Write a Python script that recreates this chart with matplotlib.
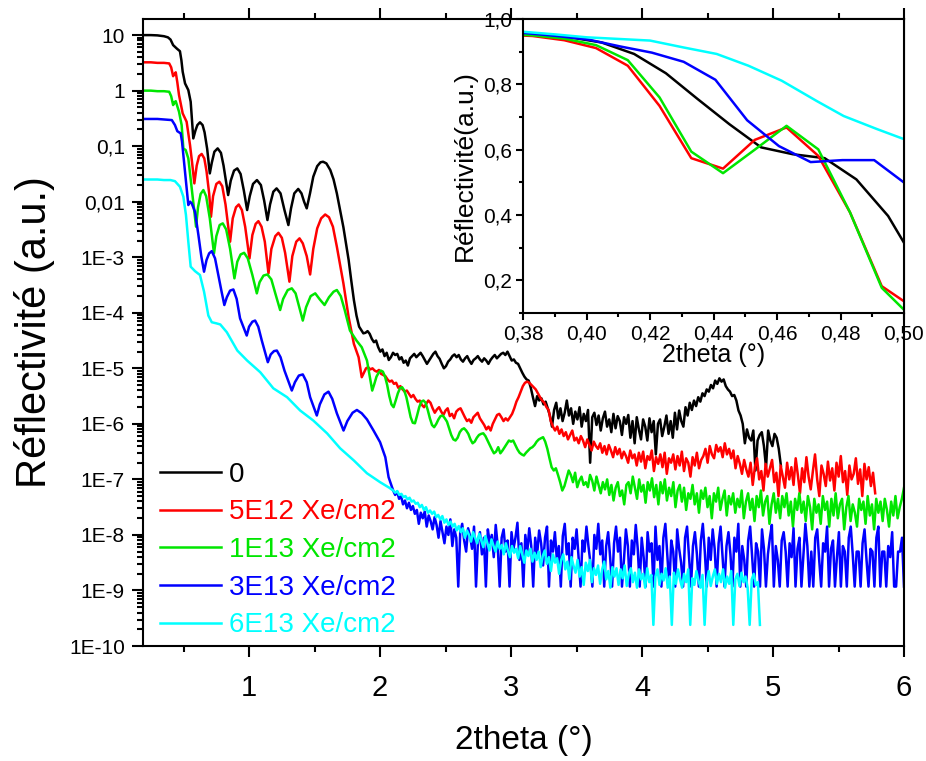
import numpy as np
import matplotlib
matplotlib.use("Agg")
import matplotlib.pyplot as plt
from matplotlib.ticker import (FuncFormatter, MultipleLocator, LogLocator,
                               NullFormatter)

plt.rcParams['font.family'] = ['Liberation Sans', 'DejaVu Sans']

# ---------------- data (main plot; y given as log10 of reflectivity) -------------
labels = ["0", "5E12 Xe/cm2", "1E13 Xe/cm2", "3E13 Xe/cm2", "6E13 Xe/cm2"]
colors = ["#000000", "#ff0000", "#00e600", "#0000ff", "#00ffff"]

# smooth (fringe) part, explicit x / log10(y)
black_x = [0.19, 0.25, 0.30, 0.35, 0.38, 0.40, 0.42, 0.447, 0.472, 0.483, 0.493, 0.511, 0.536, 0.554,
           0.565, 0.574, 0.59, 0.605, 0.625, 0.645, 0.66, 0.68, 0.70, 0.715, 0.735, 0.76, 0.785,
           0.805, 0.84, 0.86, 0.885, 0.91, 0.935, 0.96, 0.985, 1.005, 1.03, 1.06, 1.09, 1.115,
           1.14, 1.16, 1.185, 1.21, 1.24, 1.27, 1.30, 1.32, 1.345, 1.375, 1.40, 1.42, 1.44, 1.465,
           1.49, 1.52, 1.545, 1.565, 1.59, 1.62, 1.645, 1.67, 1.695, 1.72, 1.74, 1.76, 1.78, 1.80,
           1.82]
black_log = [1.0, 1.0, 0.995, 0.98, 0.96, 0.92, 0.82, 0.76, 0.71, 0.55, 0.34, 0.13, 0.01, -0.20,
             -0.55, -0.86, -0.72, -0.62, -0.57, -0.62, -0.75, -1.05, -1.49, -1.30, -1.10, -1.04,
             -1.12, -1.35, -1.88, -1.62, -1.44, -1.40, -1.50, -1.80, -2.15, -1.90, -1.68, -1.61,
             -1.70, -1.98, -2.33, -2.05, -1.82, -1.76, -1.85, -2.15, -2.42, -2.12, -1.85, -1.77,
             -1.85, -2.00, -2.12, -1.85, -1.55, -1.36, -1.29, -1.28, -1.31, -1.43, -1.60, -1.85,
             -2.15, -2.46, -2.75, -3.05, -3.42, -3.77, -4.05]
# noisy tail, evenly sampled between the given start / end angles
black_noise_range = (1.84, 5.06)
black_noise_log = [
    -4.25, -4.31, -4.37, -4.36, -4.33, -4.38, -4.47, -4.53, -4.50, -4.62,
    -4.70, -4.66, -4.78, -4.72, -4.85, -4.80, -4.72, -4.76, -4.74, -4.84,
    -4.80, -4.90, -4.86, -4.95, -4.82, -4.78, -4.74, -4.80, -4.76, -4.72,
    -4.78, -4.85, -4.92, -4.86, -4.80, -4.74, -4.70, -4.78, -4.83, -4.92,
    -5.00, -4.96, -4.88, -4.84, -4.78, -4.75, -4.80, -4.76, -4.84, -4.88,
    -4.82, -4.78, -4.86, -4.92, -4.85, -4.82, -4.78, -4.84, -4.88, -4.82,
    -4.86, -4.92, -4.85, -4.80, -4.76, -4.82, -4.78, -4.74, -4.72, -4.76,
    -4.70, -4.78, -4.86, -4.84, -4.90, -4.92, -5.00, -5.08, -5.15, -5.20,
    -5.22, -5.35, -5.52, -5.68, -5.50, -5.58, -5.54, -5.65, -5.60, -5.72,
    -5.85, -6.05, -5.75, -5.62, -5.90, -5.72, -5.95, -5.80, -5.58, -5.85,
    -5.72, -6.00, -5.78, -5.92, -5.70, -6.05, -5.82, -5.95, -5.75, -6.70,
    -5.88, -5.80, -6.02, -5.85, -6.12, -5.90, -5.78, -6.05, -5.92, -6.15,
    -5.82, -6.08, -5.86, -5.95, -6.20, -5.88, -6.00, -5.84, -6.25, -5.95,
    -6.35, -5.88, -6.10, -6.28, -5.92, -6.05, -6.30, -5.90, -6.15, -5.95,
    -6.55, -6.00, -5.92, -6.22, -6.05, -5.85, -6.18, -5.95, -6.25, -5.80,
    -6.10, -5.76, -5.95, -6.05, -5.70, -5.85, -5.62, -5.75, -5.58, -5.68,
    -5.52, -5.60, -5.45, -5.50, -5.38, -5.42, -5.30, -5.36, -5.22, -5.28,
    -5.18, -5.24, -5.20, -5.32, -5.38, -5.42, -5.50, -5.48, -5.58, -5.76,
    -5.85, -6.00, -6.35, -6.10, -6.25, -6.30, -6.12, -6.84, -6.30, -6.20,
    -6.15, -6.40, -6.78, -6.12, -6.30, -6.40, -6.18, -6.25, -6.45, -6.75]

red_x = [0.19, 0.25, 0.30, 0.35, 0.39, 0.405, 0.42, 0.43, 0.44, 0.452, 0.465, 0.493, 0.523, 0.549,
         0.565, 0.582, 0.60, 0.618, 0.638, 0.658, 0.675, 0.695, 0.709, 0.725, 0.75, 0.773, 0.795,
         0.82, 0.855, 0.875, 0.90, 0.921, 0.945, 0.97, 1.003, 1.025, 1.05, 1.071, 1.095, 1.12,
         1.148, 1.17, 1.20, 1.224, 1.25, 1.275, 1.308, 1.33, 1.36, 1.385, 1.41, 1.44, 1.466,
         1.49, 1.52, 1.55, 1.581, 1.61, 1.64, 1.67, 1.72, 1.76, 1.80, 1.836]
red_log = [0.51, 0.51, 0.50, 0.50, 0.49, 0.42, 0.26, 0.30, 0.33, 0.15, -0.08, -0.41, -0.56, -0.98,
           -1.30, -1.67, -1.35, -1.18, -1.14, -1.22, -1.45, -1.85, -2.27, -1.90, -1.68, -1.64,
           -1.72, -2.05, -2.72, -2.30, -2.10, -2.05, -2.15, -2.45, -3.02, -2.60, -2.40, -2.35,
           -2.45, -2.72, -3.29, -2.85, -2.62, -2.56, -2.65, -2.92, -3.44, -2.98, -2.72, -2.66,
           -2.75, -2.98, -3.31, -2.85, -2.48, -2.30, -2.23, -2.28, -2.45, -2.81, -3.47, -4.08,
           -4.56, -4.80]
red_noise_range = (1.86, 5.78)
red_noise_log = [
    -5.16, -5.08, -5.00, -4.98, -5.02, -5.00, -5.04, -5.06, -5.03, -5.10,
    -5.12, -5.14, -5.20, -5.24, -5.22, -5.28, -5.26, -5.35, -5.32, -5.38,
    -5.42, -5.40, -5.46, -5.52, -5.48, -5.55, -5.60, -5.58, -5.66, -5.70,
    -5.64, -5.58, -5.62, -5.72, -5.80, -5.74, -5.70, -5.78, -5.84, -5.76,
    -5.72, -5.86, -5.82, -5.90, -5.78, -5.74, -5.72, -5.80, -5.88, -5.95,
    -5.92, -5.98, -5.88, -5.84, -5.80, -5.90, -5.96, -6.02, -6.10, -6.05,
    -6.12, -6.00, -5.92, -5.84, -5.82, -5.88, -5.95, -5.90, -5.94, -5.88,
    -5.82, -5.72, -5.60, -5.52, -5.42, -5.32, -5.26, -5.24, -5.26, -5.30,
    -5.34, -5.38, -5.45, -5.52, -5.58, -5.62, -5.70, -5.75, -5.95, -6.05,
    -6.12, -6.05, -6.18, -6.10, -6.22, -6.15, -6.28, -6.20, -6.12, -6.30,
    -6.25, -6.35, -6.22, -6.30, -6.42, -6.28, -6.38, -6.48, -6.32, -6.40,
    -6.45, -6.35, -6.52, -6.40, -6.55, -6.38, -6.48, -6.60, -6.42, -6.55,
    -6.45, -6.62, -6.50, -6.58, -6.70, -6.48, -6.62, -6.55, -6.75, -6.52,
    -6.68, -6.50, -6.80, -6.58, -6.65, -6.48, -6.85, -6.60, -6.72, -6.55,
    -6.78, -6.52, -6.90, -6.62, -6.70, -6.55, -6.82, -6.58, -6.75, -6.50,
    -6.85, -6.62, -6.70, -6.95, -6.60, -6.75, -6.52, -6.80, -6.65, -6.58,
    -6.45, -6.70, -6.40, -6.55, -6.62, -6.38, -6.50, -6.42, -6.60, -6.35,
    -6.55, -6.45, -6.62, -6.48, -6.80, -6.58, -6.72, -6.90, -6.65, -6.82,
    -6.95, -6.70, -7.10, -6.78, -6.62, -7.00, -6.85, -7.20, -6.72, -6.95,
    -6.80, -6.65, -7.05, -6.88, -7.30, -6.75, -6.95, -7.15, -6.70, -7.00,
    -6.78, -7.10, -6.62, -6.92, -7.25, -6.80, -7.05, -6.60, -6.95, -7.18,
    -6.85, -6.55, -7.00, -7.30, -6.75, -6.90, -7.12, -6.68, -7.02, -6.80,
    -7.20, -6.70, -6.95, -6.58, -7.05, -6.85, -7.28, -6.75, -7.00, -6.90,
    -6.62, -7.08, -6.82, -7.30, -6.72, -7.00, -6.78, -7.12, -6.88, -7.25]

green_x = [0.19, 0.25, 0.30, 0.35, 0.39, 0.405, 0.42, 0.43, 0.44, 0.452, 0.465, 0.485, 0.498, 0.516,
           0.536, 0.562, 0.595, 0.61, 0.63, 0.651, 0.672, 0.70, 0.732, 0.75, 0.775, 0.799, 0.825,
           0.855, 0.888, 0.91, 0.935, 0.962, 0.99, 1.025, 1.059, 1.08, 1.11, 1.14, 1.17, 1.20,
           1.237, 1.26, 1.295, 1.326, 1.355, 1.385, 1.41, 1.435, 1.47, 1.505, 1.54, 1.576, 1.61,
           1.645, 1.67, 1.70, 1.73, 1.77, 1.82, 1.86, 1.90]
green_log = [0.0, 0.0, -0.01, -0.01, -0.02, -0.10, -0.26, -0.21, -0.19, -0.28, -0.38, -0.62, -1.04,
             -1.07, -1.22, -1.76, -2.45, -2.10, -1.86, -1.79, -1.90, -2.30, -2.93, -2.62, -2.42,
             -2.39, -2.50, -2.85, -3.38, -3.08, -2.95, -2.92, -3.02, -3.32, -3.65, -3.45, -3.33,
             -3.31, -3.40, -3.65, -3.95, -3.75, -3.59, -3.56, -3.65, -3.92, -4.14, -3.90, -3.70,
             -3.65, -3.76, -3.86, -3.72, -3.62, -3.59, -3.70, -3.95, -4.32, -4.50, -4.62, -4.86]
green_noise_range = (1.94, 6.0)
green_noise_log = [
    -5.40, -5.28, -5.15, -5.08, -5.04, -5.06, -5.15, -5.30, -5.50, -5.65,
    -5.70, -5.58, -5.45, -5.36, -5.34, -5.40, -5.52, -5.70, -5.88, -5.98,
    -5.99, -5.85, -5.70, -5.60, -5.58, -5.62, -5.75, -5.90, -6.02, -6.06,
    -6.00, -5.92, -5.86, -5.85, -5.90, -5.96, -6.08, -6.20, -6.28, -6.30,
    -6.25, -6.15, -6.10, -6.08, -6.12, -6.18, -6.28, -6.35, -6.32, -6.25,
    -6.20, -6.18, -6.17, -6.22, -6.30, -6.38, -6.46, -6.53, -6.50, -6.42,
    -6.53, -6.48, -6.42, -6.36, -6.30, -6.32, -6.30, -6.38, -6.46, -6.52,
    -6.55, -6.57, -6.52, -6.48, -6.44, -6.42, -6.38, -6.32, -6.28, -6.26,
    -6.24, -6.32, -6.45, -6.62, -6.78, -6.84, -6.80, -6.92, -7.05, -7.20,
    -7.12, -6.98, -6.84, -6.92, -7.05, -6.88, -7.14, -7.02, -6.95, -7.10,
    -7.05, -7.14, -6.92, -7.02, -7.20, -6.95, -7.10, -7.25, -7.05, -7.18,
    -7.00, -7.28, -7.10, -7.38, -7.15, -7.05, -7.30, -7.20, -7.45, -7.10,
    -7.05, -7.25, -6.95, -7.15, -7.35, -7.00, -7.22, -7.10, -7.42, -7.05,
    -7.20, -6.98, -7.32, -7.10, -7.45, -7.05, -7.25, -7.00, -7.38, -7.15,
    -7.30, -7.05, -7.50, -7.20, -7.10, -7.40, -7.15, -7.55, -7.25, -7.35,
    -7.10, -7.45, -7.25, -7.60, -7.20, -7.35, -7.15, -7.50, -7.30, -7.70,
    -7.25, -7.40, -7.15, -7.55, -7.35, -7.20, -7.65, -7.30, -7.45, -7.25,
    -7.60, -7.35, -7.50, -7.20, -7.70, -7.40, -7.25, -7.55, -7.35, -7.75,
    -7.30, -7.50, -7.20, -7.65, -7.40, -7.30, -7.80, -7.45, -7.25, -7.60,
    -7.35, -7.70, -7.30, -7.50, -7.25, -7.65, -7.40, -7.85, -7.35, -7.55,
    -7.25, -7.60, -7.40, -7.75, -7.30, -7.50, -7.90, -7.35, -7.60, -7.45,
    -7.80, -7.30, -7.55, -7.40, -7.85, -7.35, -7.65, -7.25, -7.70, -7.45,
    -7.35, -7.90, -7.50, -7.30, -7.75, -7.45, -7.60, -7.85, -7.35, -7.55,
    -7.40, -7.80, -7.30, -7.65, -7.45, -7.90, -7.35, -7.60, -7.40, -7.75,
    -7.35, -7.55, -7.85, -7.40, -7.65, -7.30, -7.70, -7.50, -7.35, -7.15]

blue_x = [0.19, 0.25, 0.30, 0.35, 0.41, 0.434, 0.452, 0.478, 0.488, 0.498, 0.518, 0.536, 0.55, 0.562,
          0.587, 0.613, 0.635, 0.656, 0.675, 0.695, 0.715, 0.74, 0.765, 0.79, 0.811, 0.83, 0.855,
          0.88, 0.905, 0.931, 0.982, 1.0, 1.025, 1.046, 1.07, 1.097, 1.143, 1.165, 1.19, 1.212,
          1.24, 1.27, 1.326, 1.35, 1.38, 1.41, 1.44, 1.466, 1.517, 1.54, 1.575, 1.606, 1.635,
          1.67, 1.721, 1.75, 1.79, 1.823, 1.86, 1.90, 1.95, 2.0, 2.04, 2.065]
blue_log = [-0.51, -0.51, -0.51, -0.52, -0.53, -0.62, -0.73, -0.77, -0.92, -1.16, -1.64, -2.06, -2.00,
            -2.03, -2.18, -2.60, -2.98, -3.26, -3.05, -2.93, -2.89, -3.02, -3.32, -3.62, -3.86,
            -3.72, -3.60, -3.58, -3.75, -4.10, -4.41, -4.25, -4.16, -4.14, -4.25, -4.50, -4.89,
            -4.75, -4.69, -4.68, -4.80, -5.04, -5.40, -5.25, -5.13, -5.11, -5.25, -5.52, -5.85,
            -5.65, -5.47, -5.42, -5.55, -5.81, -6.12, -5.95, -5.80, -5.75, -5.81, -5.92, -6.12,
            -6.33, -6.60, -6.96]
blue_noise_range = (2.10, 6.0)
blue_noise_log = [
    -7.20, -7.28, -7.22, -7.35, -7.30, -7.45, -7.38, -7.52, -7.42, -7.55,
    -7.48, -7.62, -7.55, -7.80, -7.60, -7.70, -7.58, -7.85, -7.65, -7.75,
    -7.90, -7.68, -7.82, -8.05, -7.75, -7.95, -8.15, -7.85, -8.00, -7.72,
    -8.20, -7.90, -8.05, -8.93, -7.95, -7.80, -8.10, -8.30, -7.88, -8.02,
    -8.25, -7.85, -8.93, -8.10, -7.95, -8.35, -8.05, -8.93, -7.90, -8.15,
    -8.00, -8.40, -7.82, -8.20, -8.93, -8.05, -7.90, -8.30, -8.10, -8.93,
    -7.95, -8.25, -8.05, -7.78, -8.45, -8.15, -8.93, -8.00, -8.30, -7.88,
    -8.20, -8.93, -8.05, -8.35, -7.92, -8.15, -8.55, -8.05, -7.85, -8.93,
    -8.10, -8.30, -7.95, -8.45, -8.20, -8.93, -8.02, -7.80, -8.35, -8.15,
    -8.93, -8.05, -8.25, -7.90, -8.40, -8.93, -8.10, -8.30, -7.85, -8.20,
    -8.50, -8.93, -8.00, -8.25, -7.80, -8.35, -8.10, -8.93, -8.20, -7.95,
    -8.40, -8.93, -8.15, -7.85, -8.30, -8.05, -8.93, -8.45, -7.90, -8.20,
    -8.93, -8.10, -8.35, -7.82, -8.25, -8.93, -8.05, -8.40, -8.93, -7.95,
    -8.30, -8.15, -8.93, -7.85, -8.45, -8.20, -8.93, -8.05, -7.80, -8.35,
    -8.93, -8.10, -8.30, -8.93, -7.90, -8.25, -8.50, -8.93, -8.05, -7.85,
    -8.40, -8.93, -8.20, -7.95, -8.35, -8.93, -8.10, -7.80, -8.30, -8.93,
    -8.05, -8.45, -7.90, -8.25, -8.93, -8.15, -7.85, -8.40, -8.93, -8.20,
    -7.95, -8.35, -8.93, -8.05, -8.30, -7.80, -8.93, -8.20, -8.45, -8.93,
    -8.10, -7.85, -8.40, -8.93, -8.15, -8.30, -8.93, -7.90, -8.25, -8.93,
    -8.35, -8.05, -7.82, -8.93, -8.20, -8.45, -8.93, -8.10, -7.95, -8.30,
    -8.93, -8.15, -8.40, -7.88, -8.93, -8.25, -8.05, -8.93, -8.35, -7.80,
    -8.20, -8.93, -8.30, -8.93, -8.05, -7.90, -8.45, -8.93, -8.15, -8.30,
    -7.85, -8.93, -8.25, -8.10, -8.93, -8.40, -7.95, -8.93, -8.20, -8.30,
    -8.93, -8.05, -7.85, -8.35, -8.93, -8.30, -8.30, -8.93, -8.15, -7.90,
    -8.45, -8.93, -8.25, -8.30, -8.93, -8.05, -7.85, -8.93, -8.30, -8.30,
    -8.93, -8.20, -8.40, -7.95, -8.93, -8.93, -8.30, -8.30, -8.05, -8.93]

cyan_x = [0.19, 0.25, 0.30, 0.35, 0.40, 0.434, 0.472, 0.498, 0.518, 0.536, 0.554, 0.587, 0.625,
          0.656, 0.689, 0.715, 0.75, 0.78, 0.83, 0.91, 0.985, 1.085, 1.185, 1.29, 1.39, 1.49,
          1.595, 1.695, 1.80, 1.90, 2.0, 2.07]
cyan_log = [-1.60, -1.60, -1.60, -1.61, -1.61, -1.63, -1.73, -1.91, -2.24, -2.72, -3.17, -3.25,
            -3.32, -3.62, -4.05, -4.17, -4.19, -4.21, -4.35, -4.68, -4.86, -5.07, -5.36, -5.52,
            -5.76, -5.94, -6.17, -6.44, -6.66, -6.89, -7.05, -7.15]
cyan_noise_range = (2.10, 4.90)
cyan_noise_log = [
    -7.20, -7.24, -7.21, -7.28, -7.26, -7.32, -7.30, -7.36, -7.33, -7.40,
    -7.38, -7.44, -7.42, -7.50, -7.46, -7.55, -7.50, -7.60, -7.56, -7.62,
    -7.58, -7.68, -7.64, -7.72, -7.66, -7.78, -7.72, -7.82, -7.76, -7.85,
    -7.80, -7.92, -7.84, -7.95, -7.88, -8.05, -7.92, -8.00, -8.12, -7.95,
    -8.05, -8.15, -7.98, -8.10, -8.22, -8.02, -8.15, -8.28, -8.08, -8.20,
    -8.30, -8.12, -8.25, -8.18, -8.35, -8.15, -8.28, -8.40, -8.20, -8.32,
    -8.25, -8.42, -8.20, -8.35, -8.50, -8.28, -8.38, -8.25, -8.48, -8.32,
    -8.45, -8.30, -8.58, -8.38, -8.28, -8.52, -8.40, -8.65, -8.35, -8.50,
    -8.42, -8.70, -8.45, -8.35, -8.62, -8.48, -8.80, -8.40, -8.55, -8.68,
    -8.45, -8.75, -8.58, -8.90, -8.50, -8.65, -8.45, -8.85, -8.60, -8.72,
    -8.55, -8.88, -8.62, -8.48, -8.80, -8.65, -8.95, -8.58, -8.75, -8.60,
    -8.90, -8.62, -8.78, -8.55, -8.92, -8.70, -8.60, -8.85, -8.68, -8.95,
    -8.62, -8.80, -8.70, -8.95, -8.60, -8.85, -8.72, -9.62, -8.75, -8.62,
    -8.90, -8.70, -8.82, -8.60, -8.95, -8.75, -9.62, -8.68, -8.88, -8.62,
    -8.80, -8.95, -8.70, -8.85, -8.62, -9.62, -8.78, -8.90, -8.65, -8.82,
    -8.95, -8.72, -9.62, -8.85, -8.65, -8.92, -8.75, -8.62, -8.88, -8.70,
    -8.85, -8.62, -8.95, -8.75, -8.88, -8.65, -9.62, -8.80, -8.70, -8.92,
    -8.68, -8.85, -8.75, -8.95, -9.62, -8.80, -8.70, -8.90, -8.85, -9.62]

# ---------------- data (inset, linear reflectivity) ----------------
black_in_x = [0.3745, 0.3847, 0.3947, 0.4048, 0.415, 0.425, 0.435, 0.445, 0.455, 0.465, 0.475, 0.485, 0.495, 0.505]
black_in_y = [0.958, 0.953, 0.944, 0.928, 0.893, 0.834, 0.755, 0.678, 0.607, 0.586, 0.574, 0.509, 0.397, 0.233]
red_in_x = [0.373, 0.383, 0.393, 0.403, 0.413, 0.423, 0.433, 0.443, 0.453, 0.463, 0.473, 0.483, 0.493, 0.503]
red_in_y = [0.952, 0.948, 0.935, 0.911, 0.857, 0.734, 0.574, 0.542, 0.630, 0.668, 0.581, 0.408, 0.182, 0.116]
green_in_x = [0.373, 0.383, 0.393, 0.403, 0.413, 0.423, 0.433, 0.443, 0.453, 0.463, 0.473, 0.483, 0.493, 0.503]
green_in_y = [0.955, 0.950, 0.940, 0.920, 0.874, 0.760, 0.594, 0.528, 0.600, 0.673, 0.601, 0.408, 0.177, 0.081]
blue_in_x = [0.3706, 0.3806, 0.3906, 0.4006, 0.4106, 0.4206, 0.4306, 0.4406, 0.4506, 0.4606, 0.4706, 0.4806, 0.4906, 0.5006]
blue_in_y = [0.962, 0.957, 0.948, 0.937, 0.916, 0.897, 0.869, 0.814, 0.690, 0.611, 0.562, 0.568, 0.568, 0.495]
cyan_in_x = [0.37, 0.38, 0.39, 0.40, 0.41, 0.42, 0.4305, 0.441, 0.451, 0.4615, 0.4725, 0.481, 0.4915, 0.502]
cyan_in_y = [0.963, 0.961, 0.953, 0.944, 0.939, 0.934, 0.913, 0.893, 0.857, 0.811, 0.749, 0.703, 0.663, 0.625]

# ---------------- assemble ----------------
def series(xs, logs, nrange, nlogs):
    xn = np.linspace(nrange[0], nrange[1], len(nlogs))
    x = np.concatenate([np.asarray(xs, float), xn])
    y = 10.0 ** np.concatenate([np.asarray(logs, float), np.asarray(nlogs, float)])
    return x, y

main_series = [
    series(black_x, black_log, black_noise_range, black_noise_log),
    series(red_x, red_log, red_noise_range, red_noise_log),
    series(green_x, green_log, green_noise_range, green_noise_log),
    series(blue_x, blue_log, blue_noise_range, blue_noise_log),
    series(cyan_x, cyan_log, cyan_noise_range, cyan_noise_log),
]
inset_series = [(black_in_x, black_in_y), (red_in_x, red_in_y), (green_in_x, green_in_y),
                (blue_in_x, blue_in_y), (cyan_in_x, cyan_in_y)]

# ---------------- figure ----------------
W, H = 926, 761
fig = plt.figure(figsize=(W / 100, H / 100), dpi=100)

def box(l, t, r, b):
    return [l / W, 1 - b / H, (r - l) / W, (b - t) / H]

ax = fig.add_axes(box(143, 19, 904, 646))
lines = []
for (x, y), c, lab in zip(main_series, colors, labels):
    ln, = ax.plot(x, y, color=c, lw=1.8, label=lab)
    lines.append(ln)

ax.set_yscale('log')
ax.set_xlim(0.19, 6.0)
ax.set_ylim(1e-10, 19.5)
ax.xaxis.set_major_locator(MultipleLocator(1))
ax.xaxis.set_minor_locator(MultipleLocator(0.5))
ax.yaxis.set_major_locator(LogLocator(base=10, numticks=30))
ax.yaxis.set_minor_locator(LogLocator(base=10, subs=np.arange(2, 10), numticks=30))
ax.yaxis.set_minor_formatter(NullFormatter())

def ylab(v, pos):
    e = int(round(np.log10(v)))
    return {1: '10', 0: '1', -1: '0,1', -2: '0,01'}.get(e, f'1E{e}')

ax.yaxis.set_major_formatter(FuncFormatter(ylab))
for s in ax.spines.values():
    s.set_linewidth(1.5)
ax.tick_params(axis='both', which='both', direction='out', width=1.5, top=True, right=False)
ax.tick_params(axis='x', which='major', length=8, labelsize=21, pad=12)
ax.tick_params(axis='x', which='minor', length=4)
ax.tick_params(axis='y', which='major', length=8, labelsize=15, pad=5)
ax.tick_params(axis='y', which='minor', length=4)
ax.set_xlabel('2theta (°)', fontsize=24, labelpad=17)
ax.set_ylabel('Réflectivité (a.u.)', fontsize=30, labelpad=10)

leg = ax.legend(handles=lines, loc='lower left', bbox_to_anchor=(0.022, 0.012), frameon=False,
                fontsize=20, handlelength=2.2, handletextpad=0.3, labelspacing=0.42,
                borderpad=0, borderaxespad=0)
for t, c in zip(leg.get_texts(), colors):
    t.set_color(c)

# ---------------- inset ----------------
ins = fig.add_axes(box(523, 19, 904, 313))
ins.set_facecolor('white')
for (x, y), c in zip(inset_series, colors):
    ins.plot(x, y, color=c, lw=1.8)
ins.set_xlim(0.38, 0.50)
ins.set_ylim(0.1, 1.0)
ins.xaxis.set_major_locator(MultipleLocator(0.02))
ins.xaxis.set_minor_locator(MultipleLocator(0.01))
ins.yaxis.set_major_locator(MultipleLocator(0.2))
ins.yaxis.set_minor_locator(MultipleLocator(0.1))
ins.xaxis.set_major_formatter(FuncFormatter(lambda v, p: f'{v:.2f}'.replace('.', ',')))
ins.yaxis.set_major_formatter(FuncFormatter(lambda v, p: f'{v:.1f}'.replace('.', ',')))
for s in ins.spines.values():
    s.set_linewidth(1.5)
ins.tick_params(axis='both', which='both', direction='out', width=1.5, top=False, right=False)
ins.tick_params(which='major', length=5, labelsize=15, pad=3)
ins.tick_params(which='minor', length=3)
ins.set_xlabel('2theta (°)', fontsize=18, labelpad=0)
ins.set_ylabel('Réflectivité(a.u.)', fontsize=19, labelpad=4)

fig.savefig('out.png', dpi=100)
